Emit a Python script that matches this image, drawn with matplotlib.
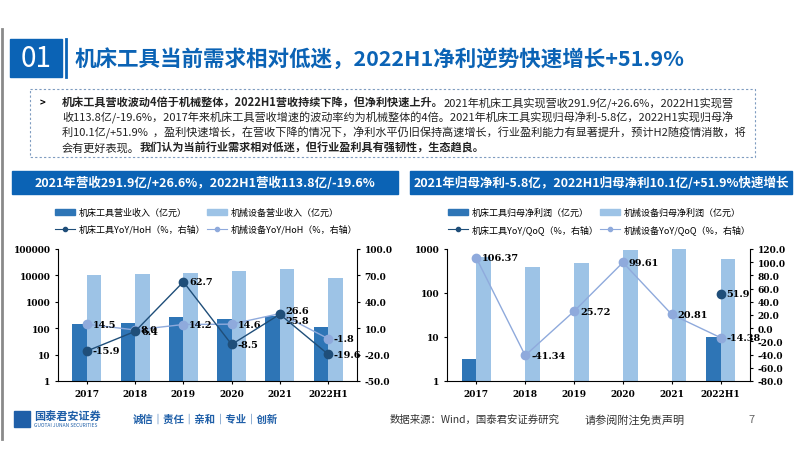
import numpy as np
import matplotlib.pyplot as plt
from matplotlib.patches import Rectangle

plt.rcParams["font.family"] = ["Noto Sans CJK SC", "DejaVu Sans"]

years = ["2017", "2018", "2019", "2020", "2021", "2022H1"]

# left chart: revenue (亿元, log) and growth (%)
rev_tool = [150, 160, 260, 230, 292, 114]
rev_mach = [10000, 11000, 12500, 14500, 18000, 8000]
yoy_tool = [-15.9, 6.4, 62.7, -8.5, 25.8, -19.6]
yoy_mach = [14.5, 8.0, 14.2, 14.6, 26.6, -1.8]

# right chart: net profit (亿元, log) and growth (%)
np_tool = [3.2, np.nan, np.nan, np.nan, np.nan, 10.1]
np_mach = [650, 380, 480, 950, 1200, 600]
npy_tool = [np.nan, np.nan, np.nan, np.nan, np.nan, 51.9]
npy_mach = [106.37, -41.34, 25.72, 99.61, 20.81, -14.38]

DARK = "#2e75b6"
LIGHT = "#9dc3e6"
LDOT = "#8faadc"
NAVY = "#1f4e79"
HEAD = "#0b63b5"
NUMFONT = ["DejaVu Serif"]

W, H = 802, 452
fig = plt.figure(figsize=(W / 100, H / 100), dpi=100)
bg = fig.add_axes([0, 0, 1, 1])
bg.set_xlim(0, W)
bg.set_ylim(H, 0)
bg.axis("off")
renderer = fig.canvas.get_renderer()


def px_axes(x0, y0, x1, y1):
    return fig.add_axes([x0 / W, 1 - y1 / H, (x1 - x0) / W, (y1 - y0) / H])


# header
bg.add_patch(Rectangle((10, 40), 52, 38, color=HEAD))
bg.text(36, 59, "01", color="white", fontsize=20, ha="center", va="center")
bg.plot([66, 66], [40, 78], color=HEAD, lw=2)
bg.text(75, 59, "机床工具当前需求相对低迷，2022H1净利逆势快速增长+51.9%",
        color=HEAD, fontsize=15.5, fontweight="bold", va="center")
bg.plot([2, 2], [30, 440], color="#8a8a8a", lw=2)

# text box
bg.add_patch(Rectangle((30, 90), 725, 68, fill=False, ls=(0, (2, 2)), ec="#7f9cc0", lw=0.8))
lines = [
    [("机床工具营收波动4倍于机械整体，2022H1营收持续下降，但净利快速上升。", True),
     ("2021年机床工具实现营收291.9亿/+26.6%，2022H1实现营", False)],
    [("收113.8亿/-19.6%，2017年来机床工具营收增速的波动率约为机械整体的4倍。2021年机床工具实现归母净利-5.8亿，2022H1实现归母净", False)],
    [("利10.1亿/+51.9%  ，盈利快速增长，在营收下降的情况下，净利水平仍旧保持高速增长，行业盈利能力有显著提升，预计H2随疫情消散，将", False)],
    [("会有更好表现。", False), ("我们认为当前行业需求相对低迷，但行业盈利具有强韧性，生态趋良。", True)],
]
bg.text(40, 103, ">", fontsize=7, va="center", fontweight="bold")
for i, parts in enumerate(lines):
    xx = 62
    for s, bold in parts:
        t = bg.text(xx, 103 + i * 15, s, fontsize=8, va="center", color="#222222",
                    fontweight="bold" if bold else "normal")
        xx += t.get_window_extent(renderer).width

# chart headers
bg.add_patch(Rectangle((12, 172), 386, 23, color=HEAD))
bg.text(205, 183.5, "2021年营收291.9亿/+26.6%，2022H1营收113.8亿/-19.6%",
        color="white", fontsize=9, ha="center", va="center", fontweight="bold")
bg.add_patch(Rectangle((410, 172), 382, 23, color=HEAD))
bg.text(601, 183.5, "2021年归母净利-5.8亿，2022H1归母净利10.1亿/+51.9%快速增长",
        color="white", fontsize=9, ha="center", va="center", fontweight="bold")


def legend(x, y, labels):
    (a, b, c, d) = labels
    bg.add_patch(Rectangle((x, y - 3), 20, 6, color=DARK))
    bg.text(x + 24, y, a, fontsize=6.5, va="center")
    bg.add_patch(Rectangle((x + 152, y - 3), 20, 6, color=LIGHT))
    bg.text(x + 176, y, b, fontsize=6.5, va="center")
    bg.plot([x, x + 20], [y + 17, y + 17], color=NAVY, lw=0.8)
    bg.plot([x + 10], [y + 17], "o", color=NAVY, ms=3)
    bg.text(x + 24, y + 17, c, fontsize=6.5, va="center")
    bg.plot([x + 152, x + 172], [y + 17, y + 17], color=LDOT, lw=0.8)
    bg.plot([x + 162], [y + 17], "o", color=LDOT, ms=3)
    bg.text(x + 176, y + 17, d, fontsize=6.5, va="center")


legend(55, 213, ["机床工具营业收入（亿元）", "机械设备营业收入（亿元）",
                 "机床工具YoY/HoH（%，右轴）", "机械设备YoY/HoH（%，右轴）"])
legend(448, 213, ["机床工具归母净利润（亿元）", "机械设备归母净利润（亿元）",
                  "机床工具YoY/QoQ（%，右轴）", "机械设备YoY/QoQ（%，右轴）"])

x = np.arange(len(years))


def chart(box, bt, bm, lt, lm, ylim, rlim, rstep, labs_t, labs_m, offs):
    ax = px_axes(*box)
    ax.bar(x - 0.15, bt, 0.3, color=DARK, zorder=2)
    ax.bar(x + 0.15, bm, 0.3, color=LIGHT, zorder=2)
    ax.set_yscale("log")
    ax.set_ylim(*ylim)
    ax.set_xlim(-0.6, 5.6)
    ax.set_xticks(x, years)
    ticks = [10 ** k for k in range(int(np.log10(ylim[0])), int(np.log10(ylim[1])) + 1)]
    ax.set_yticks(ticks, [str(t) for t in ticks])
    ax.minorticks_off()
    for s in ["top", "right"]:
        ax.spines[s].set_visible(False)
    ax.tick_params(labelsize=6.5, length=2)
    for lab in ax.get_xticklabels() + ax.get_yticklabels():
        lab.set_fontweight("bold")
        lab.set_family(NUMFONT)
    ax2 = ax.twinx()
    ax2.set_ylim(*rlim)
    ax2.set_yticks(np.arange(rlim[0], rlim[1] + 0.1, rstep))
    ax2.set_yticklabels([f"{v:.1f}" for v in ax2.get_yticks()])
    ax2.tick_params(labelsize=6.5, length=2)
    for lab in ax2.get_yticklabels():
        lab.set_fontweight("bold")
        lab.set_family(NUMFONT)
    for s in ["top", "left", "bottom"]:
        ax2.spines[s].set_visible(False)
    ax2.plot(x, lm, "-o", color=LDOT, lw=1, ms=6, zorder=3)
    ax2.plot(x, lt, "-o", color=NAVY, lw=1, ms=6, zorder=4)
    for i in range(len(x)):
        if labs_t[i] is not None and not np.isnan(lt[i]):
            ax2.text(x[i] + 0.12, lt[i] + offs[0][i], labs_t[i], fontsize=7, va="center",
                     fontweight="bold", family=NUMFONT)
        if not np.isnan(lm[i]):
            ax2.text(x[i] + 0.12, lm[i] + offs[1][i], labs_m[i], fontsize=7, va="center",
                     fontweight="bold", family=NUMFONT)


chart((58, 250, 357, 382), rev_tool, rev_mach, yoy_tool, yoy_mach,
      (1, 100000), (-50, 100), 30,
      [f"{v}" for v in yoy_tool], [f"{v}" for v in yoy_mach],
      ([0, 0, 0, 0, -7, 0], [0, 0, 0, 0, 4, 0]))
chart((447, 250, 750, 382), np_tool, np_mach, npy_tool, npy_mach,
      (1, 1000), (-80, 120), 20,
      [None] * 5 + ["51.9"], [f"{v}" for v in npy_mach],
      ([0] * 6, [0] * 6))

# footer
bg.add_patch(Rectangle((14, 412), 16, 16, color="#1f5fa8"))
bg.text(34, 416, "国泰君安证券", fontsize=8, color="#1f5fa8", va="center", fontweight="bold")
bg.text(34, 426, "GUOTAI JUNAN SECURITIES", fontsize=3.5, color="#1f5fa8", va="center")
bg.text(133, 420, "诚信｜责任｜亲和｜专业｜创新", fontsize=7.5, color="#1f5fa8",
        va="center", fontweight="bold")
bg.text(390, 420, "数据来源：Wind，国泰君安证券研究", fontsize=7.5, va="center", color="#333333")
bg.text(585, 420, "请参阅附注免责声明", fontsize=8, va="center", color="#333333")
bg.text(748, 420, "7", fontsize=8, va="center", color="#666666")

fig.savefig("out.png", dpi=100)
